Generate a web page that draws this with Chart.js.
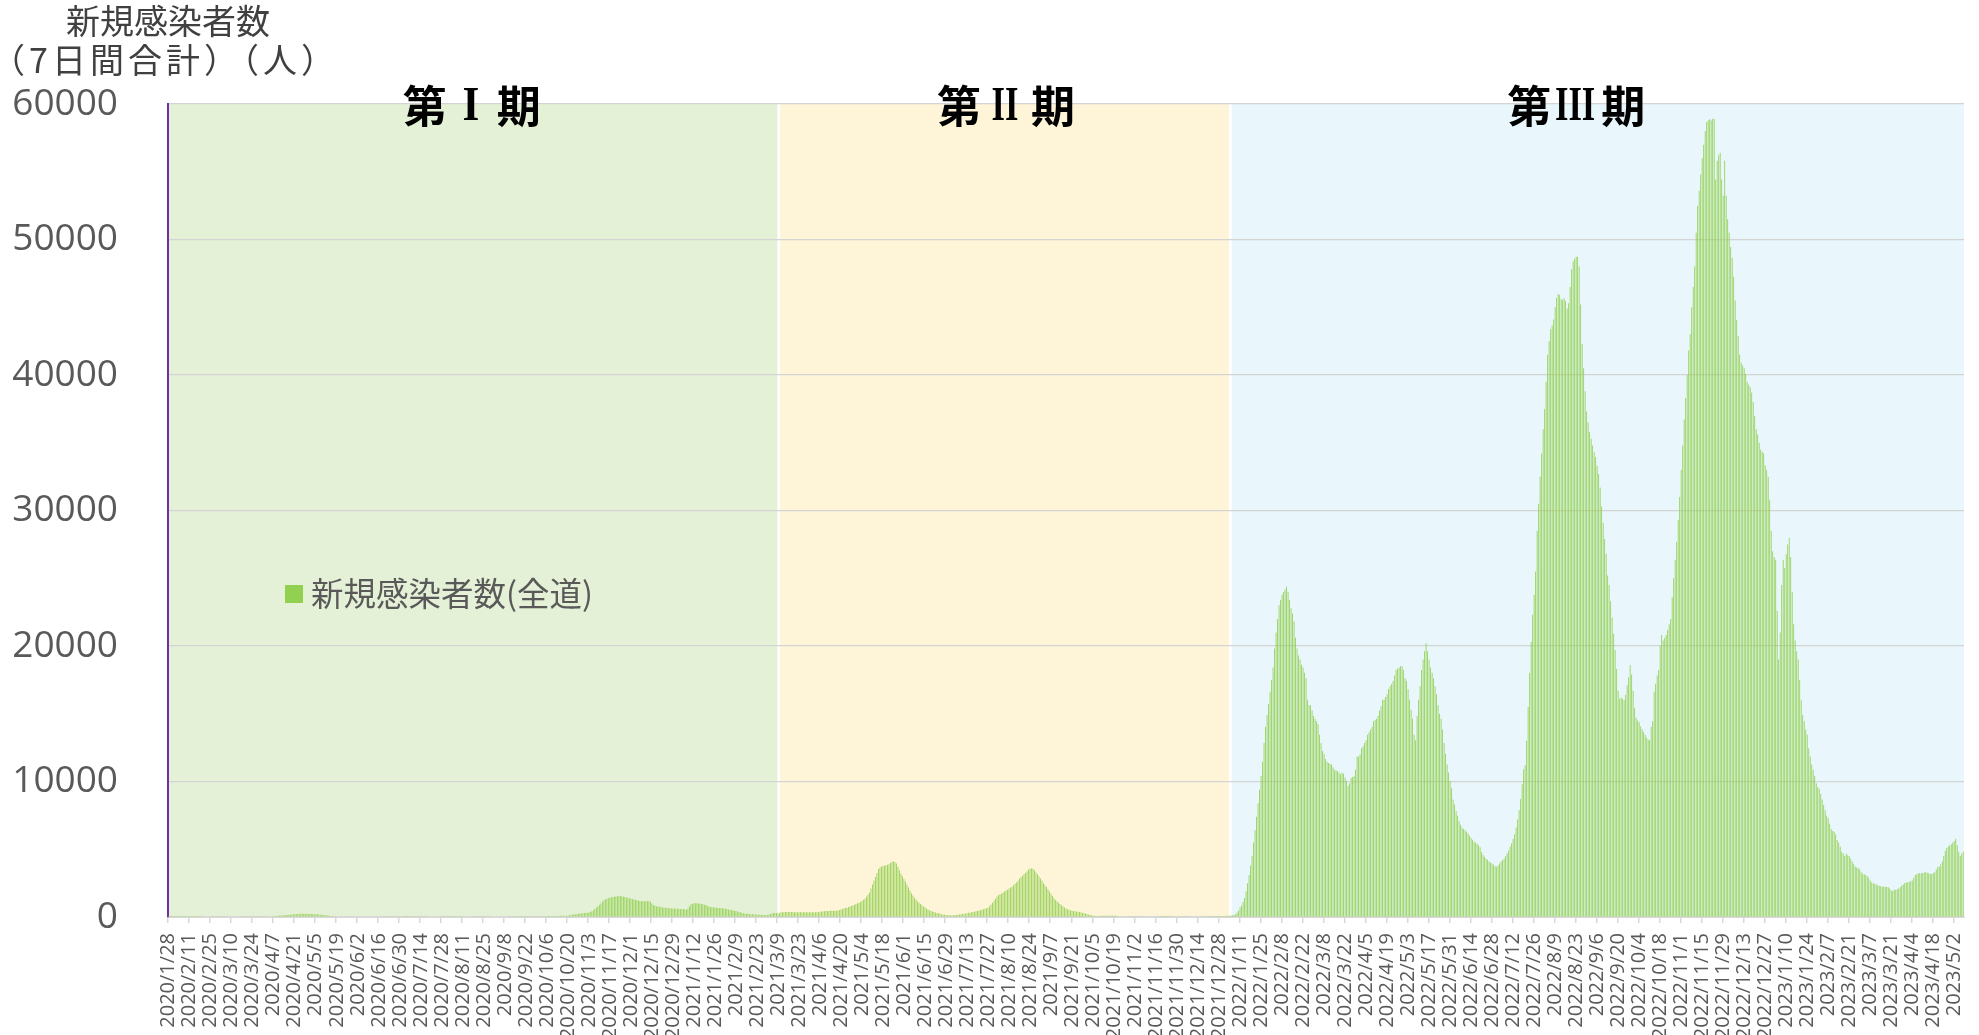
<!DOCTYPE html>
<html><head><meta charset="utf-8">
<script src="https://cdn.jsdelivr.net/npm/chart.js@4.4.1/dist/chart.umd.min.js"></script>
<style>html,body{margin:0;padding:0;background:#fff;overflow:hidden}#wrap{width:1979px;height:1035px;position:relative}</style>
</head><body><div id="wrap"><canvas id="c" width="1979" height="1035"></canvas></div>
<script>
// ---- data (7-day totals) ----
const startDate = '2020/1/28';
const cases2020 = [
1,1,1,1,
1,1,1,1,1,1,1,1,1,1,1,2,3,4,6,8,10,14,18,22,28,33,38,42,48,52,55,58,60,
62,63,60,58,55,52,48,45,42,40,38,35,32,30,28,25,22,20,18,16,15,14,13,12,12,12,13,14,16,18,20,
22,25,30,35,42,50,60,70,80,92,105,115,125,135,145,155,165,175,185,195,205,215,225,230,235,240,238,235,232,230,
228,225,220,212,205,195,185,175,165,150,135,120,105,92,80,70,60,52,45,40,36,33,30,28,27,26,25,26,28,30,32,
35,38,40,42,42,40,38,36,34,32,30,30,31,32,32,30,28,26,24,22,20,18,16,15,14,13,12,12,11,10,
10,10,9,9,9,10,10,11,12,13,14,15,16,18,20,22,24,26,28,30,32,35,38,42,46,50,55,58,60,62,64,
66,68,70,70,68,66,62,58,54,50,48,46,45,44,44,45,46,48,50,52,54,56,58,60,60,58,55,52,48,45,42,
40,38,36,35,35,36,38,40,42,45,48,50,52,55,58,60,62,64,65,66,66,66,65,64,62,60,58,57,56,56,
56,58,60,62,64,66,68,70,72,75,78,80,82,85,88,90,92,95,98,100,120,145,170,195,210,225,240,250,262,275,290,
300,310,340,370,420,490,600,700,800,900,1000,1120,1230,1290,1350,1390,1430,1455,1475,1490,1510,1525,1540,1550,1530,1500,1470,1440,1420,1390,
1360,1320,1300,1270,1240,1210,1180,1170,1160,1155,1170,1180,1160,1130,1000,890,840,790,770,750,730,710,690,680,665,655,640,630,625,620,615
];
const cases2021 = [
610,600,590,585,590,570,540,620,800,935,980,1010,1015,1010,1000,985,960,935,910,885,820,760,740,725,715,700,690,680,665,650,640,
630,615,590,560,540,515,490,465,440,400,360,345,310,270,255,245,235,220,210,200,195,190,185,175,170,165,155,150,
150,160,190,220,260,295,300,290,285,300,345,350,355,360,365,370,370,365,360,355,350,350,345,345,345,345,345,345,345,345,345,
345,345,345,345,360,395,405,415,425,435,440,450,455,460,465,470,470,480,510,550,590,630,665,690,730,770,810,850,900,960,
1010,1060,1110,1190,1270,1350,1500,1650,1800,2100,2400,2700,2950,3250,3550,3650,3720,3760,3780,3800,3850,3900,3980,4080,4100,4060,3950,3700,3450,3200,3000,
2800,2620,2400,2180,1950,1750,1580,1420,1300,1160,1060,960,860,780,700,630,560,500,450,410,370,330,300,270,240,210,180,165,150,140,
130,125,125,130,140,150,160,180,200,225,245,265,285,305,320,345,370,395,420,445,475,505,535,565,600,640,690,800,920,1030,1200,
1350,1520,1600,1670,1720,1800,1880,1950,2020,2100,2170,2240,2340,2450,2550,2680,2820,2950,3050,3150,3250,3380,3500,3570,3600,3560,3450,3300,3150,3000,2850,
2680,2500,2350,2220,2050,1880,1720,1550,1380,1250,1160,1060,960,870,790,700,630,580,540,500,470,440,420,400,380,365,350,320,280,250,
220,180,150,125,100,85,75,75,80,90,100,100,100,100,100,100,100,100,100,90,70,50,45,40,35,30,28,25,22,20,20,
18,18,20,20,22,22,25,28,30,32,35,38,40,42,45,50,55,60,65,70,72,75,72,70,65,55,48,40,35,30,
28,25,22,20,20,20,22,25,28,30,32,35,38,40,42,45,48,50,55,60,62,65,68,70,72,75,75,75,75,78,80
];
const cases2022 = [
80,85,90,100,110,120,150,200,330,480,700,850,1100,1400,1900,2500,3100,3800,4500,5500,6400,7400,8400,9400,10400,11460,12850,14040,14900,15700,16630,
17500,18420,19810,21000,22000,23000,23400,23790,23990,24190,24390,24000,23390,22790,22400,21800,20610,19810,19300,19010,18620,18420,18020,17620,16030,15630,15630,15240,
14840,14640,14440,14240,13450,12850,12250,12050,11660,11460,11360,11300,11260,11060,10860,10820,10780,10660,10540,10660,10580,10300,10060,9670,9870,10260,10340,10380,10860,11850,11850,
12000,12450,12600,12850,13050,13450,13640,13840,14040,14440,14540,14640,14840,15240,15550,16030,16030,16230,16430,16830,17030,17200,17420,17820,18220,18340,18420,18500,18500,18220,
17620,17420,16800,16030,15300,14640,13450,13050,14840,16030,17030,18220,19000,19610,20210,19610,19010,18420,18020,17620,17030,16430,15630,15000,14640,13840,12850,12050,11260,10660,10060,
9500,8670,8300,7800,7480,7080,6800,6600,6500,6400,6300,6170,6000,5850,5700,5550,5490,5400,5290,5150,4800,4600,4450,4300,4220,4100,4020,3950,3850,3750,
3700,3800,3950,4100,4200,4300,4500,4700,4900,5200,5450,5750,6100,6600,7200,7880,8700,9800,10900,11200,13000,15500,18000,20300,22300,23790,25500,28500,30500,32500,34200,
36000,37500,39500,41500,42500,43400,43650,44100,45000,45700,46000,45900,45600,45550,45670,45470,44900,45300,46500,47800,48400,48600,48730,48730,48000,45200,42300,40500,38800,37300,36500,
35800,35300,34800,34300,33950,33300,32700,31700,30300,29100,27900,26800,25200,24500,23300,22100,20900,19700,18300,16700,16100,16200,16100,16000,16400,17100,17700,18600,17900,16700,
15400,14700,14500,14400,14050,13850,13650,13450,13250,13100,13050,14040,14440,16630,17220,17820,18220,20000,20810,20410,20610,20810,21200,21600,22000,23590,25000,26370,27700,29300,31000,
33000,34800,36720,38310,40000,41800,43000,45000,46500,48000,50500,52500,53600,54800,56000,57000,58000,58680,58800,58870,58800,58910,58900,54420,55810,56210,56410,54420,53230,55810,
53230,51500,50500,49450,48650,47260,45500,44080,42880,41500,40890,40700,40500,40100,39500,39300,39100,38710,38000,37000,36000,35600,35000,34500,34330,34210,33340,33000,32500,30800,28500
];
const cases2023 = [
27000,26570,26370,22600,19010,21000,24500,26370,25780,26770,27500,27970,26570,24000,21600,20400,19610,19010,17500,16000,14900,14440,13840,13450,12450,11850,11260,10860,10400,9870,9600,
9470,9070,8670,8270,7880,7480,7280,6880,6480,6350,6290,6090,5690,5490,5200,4810,4690,4500,4690,4550,4500,4300,4100,3900,3700,3650,3620,3500,
3300,3200,3150,3100,3000,2900,2700,2550,2500,2450,2400,2350,2310,2270,2230,2230,2230,2220,2200,2100,1950,1910,2030,1990,2050,2110,2200,2310,2400,2510,2550,
2570,2590,2650,2700,2900,3100,3150,3220,3220,3220,3250,3280,3300,3260,3220,3200,3180,3250,3300,3500,3700,3700,3900,4100,4500,4890,5090,5200,5290,5370,
5490,5610,5770,5290,4810,4500,4690,4810
];
const tickLabels = [
'2020/1/28','2020/2/11','2020/2/25','2020/3/10','2020/3/24','2020/4/7','2020/4/21','2020/5/5','2020/5/19','2020/6/2','2020/6/16','2020/6/30','2020/7/14','2020/7/28','2020/8/11','2020/8/25','2020/9/8','2020/9/22','2020/10/6','2020/10/20','2020/11/3','2020/11/17','2020/12/1','2020/12/15','2020/12/29',
'2021/1/12','2021/1/26','2021/2/9','2021/2/23','2021/3/9','2021/3/23','2021/4/6','2021/4/20','2021/5/4','2021/5/18','2021/6/1','2021/6/15','2021/6/29','2021/7/13','2021/7/27','2021/8/10','2021/8/24','2021/9/7','2021/9/21','2021/10/5','2021/10/19','2021/11/2','2021/11/16','2021/11/30','2021/12/14','2021/12/28',
'2022/1/11','2022/1/25','2022/2/8','2022/2/22','2022/3/8','2022/3/22','2022/4/5','2022/4/19','2022/5/3','2022/5/17','2022/5/31','2022/6/14','2022/6/28','2022/7/12','2022/7/26','2022/8/9','2022/8/23','2022/9/6','2022/9/20','2022/10/4','2022/10/18','2022/11/1','2022/11/15','2022/11/29','2022/12/13','2022/12/27',
'2023/1/10','2023/1/24','2023/2/7','2023/2/21','2023/3/7','2023/3/21','2023/4/4','2023/4/18','2023/5/2'
];
const yTicks = [0,10000,20000,30000,40000,50000,60000];
const seriesLabel = '新規感染者数(全道)';
const yTitleLines = ['新規感染者数','（7日間合計）（人）'];
const phaseNames = ['第Ⅰ期','第Ⅱ期','第Ⅲ期'];
const phaseStarts = ['2020/1/28','2021/3/10','2022/1/5'];
const phaseLabelAt = ['2020/8/17','2021/8/8','2022/8/23'];
const phaseColors = ['#E5F1D7','#FEF4D8','#E9F7FD'];

// ---- build ----
const values = [].concat(cases2020, cases2021, cases2022, cases2023);
const labels = [];
{
  const p = startDate.split('/').map(Number);
  const d = new Date(p[0], p[1]-1, p[2]);
  for (let i = 0; i < values.length; i++) {
    labels.push(d.getFullYear() + '/' + (d.getMonth()+1) + '/' + d.getDate());
    d.setDate(d.getDate()+1);
  }
}
const tickSet = new Set(tickLabels);
const FONT = '"Noto Sans CJK JP", "Noto Sans", sans-serif';
const LATIN = '"Open Sans", "Noto Sans", sans-serif';
const ROMAN = { 'Ⅰ': 'I', 'Ⅱ': 'II', 'Ⅲ': 'III' };

const decor = {
  id: 'decor',
  beforeDraw(chart) {
    const {ctx, chartArea: a, scales: {x}} = chart;
    const half = (x.getPixelForValue(1) - x.getPixelForValue(0)) / 2;
    const edges = phaseStarts.map(s => x.getPixelForValue(labels.indexOf(s)) - half);
    edges.push(a.right);
    ctx.save();
    for (let i = 0; i < phaseNames.length; i++) {
      const l = edges[i] + (i > 0 ? 1.3 : 0);
      const r = edges[i+1] - (i < phaseNames.length - 1 ? 1.3 : 0);
      ctx.fillStyle = phaseColors[i];
      ctx.fillRect(l, a.top, r - l, a.bottom - a.top);
    }
    ctx.restore();
  },
  afterDraw(chart) {
    const {ctx, chartArea: a, scales: {x}} = chart;
    ctx.save();
    // phase labels
    ctx.fillStyle = '#000';
    ctx.textAlign = 'center';
    ctx.textBaseline = 'middle';
    const ly = a.top + 2;
    phaseNames.forEach((n, i) => {
      const cx = x.getPixelForValue(labels.indexOf(phaseLabelAt[i]));
      const ch = Array.from(n);
      ctx.font = 'bold 44px ' + FONT;
      ctx.fillText(ch[0], cx - 47, ly);
      ctx.fillText(ch[2], cx + 47, ly);
      const r = ROMAN[ch[1]] || ch[1];
      ctx.save();
      ctx.translate(cx - 1, ly + 2);
      ctx.scale(r.length > 1 ? 0.72 : 0.9, 1);
      ctx.font = 'bold 48px "Liberation Serif", serif';
      ctx.fillText(r, 0, 0);
      ctx.restore();
    });
    // axis title
    ctx.fillStyle = '#404040';
    ctx.font = '34px ' + FONT;
    ctx.fillText(yTitleLines[0], a.left, 21);
    ctx.letterSpacing = '4px';
    ctx.fillText(yTitleLines[1], a.left - 3, 60);
    ctx.letterSpacing = '0px';
    // legend
    const ds = chart.data.datasets[0];
    ctx.fillStyle = '#92D050';
    ctx.fillRect(285, 585, 18, 18);
    ctx.fillStyle = '#595959';
    ctx.font = '32.5px ' + FONT;
    ctx.textAlign = 'left';
    ctx.fillText(ds.label, 311, 594);
    ctx.restore();
  }
};

Chart.defaults.font.family = FONT;
new Chart(document.getElementById('c'), {
  type: 'bar',
  data: {
    labels: labels,
    datasets: [{
      label: seriesLabel,
      data: values,
      backgroundColor: '#92D050',
      borderWidth: 0,
      barPercentage: 0.56,
      categoryPercentage: 1.0
    }]
  },
  options: {
    responsive: false,
    maintainAspectRatio: false,
    animation: false,
    devicePixelRatio: 1,
    layout: { padding: { top: 104, right: 15, bottom: 0, left: 0 } },
    plugins: { legend: { display: false }, tooltip: { enabled: false }, title: { display: false } },
    scales: {
      x: {
        afterFit: s => { s.height = 118; s.paddingLeft = 0; s.paddingRight = 0; },
        grid: {
          drawOnChartArea: false,
          tickLength: 6,
          lineWidth: 1.5,
          color: c => (c.index % 14 === 0 && c.index < labels.length) ? '#d9d9d9' : 'rgba(0,0,0,0)'
        },
        border: { display: true, color: '#d9d9d9', width: 2 },
        ticks: {
          autoSkip: false,
          minRotation: 90,
          maxRotation: 90,
          padding: 10,
          color: '#595959',
          font: { size: 20, family: LATIN },
          callback: (v, i) => tickSet.has(labels[i]) ? labels[i] : ''
        }
      },
      y: {
        min: 0,
        max: 60000,
        afterFit: s => { s.width = 168; },
        afterBuildTicks: s => { s.ticks = yTicks.map(v => ({ value: v })); },
        grid: { color: '#d4d4d4', lineWidth: 1.2, drawTicks: false },
        border: { display: true, color: '#7030A0', width: 2 },
        ticks: {
          padding: 50,
          color: '#595959',
          font: { size: 37, family: LATIN },
          callback: v => String(v)
        }
      }
    }
  },
  plugins: [decor]
});
</script>
</body></html>
